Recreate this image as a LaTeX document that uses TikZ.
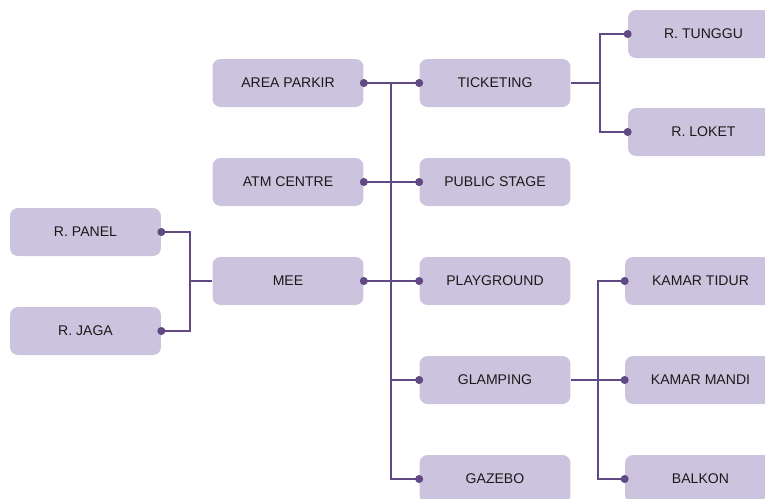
\documentclass[tikz,border=0pt]{standalone}
\usepackage{fontspec}
\setmainfont{Liberation Sans}
\usepackage{tikz}
\usetikzlibrary{calc}
\definecolor{boxfill}{RGB}{204,196,222}
\definecolor{linec}{RGB}{97,74,131}
\definecolor{txtc}{RGB}{26,26,26}
\def\dotat(#1){\fill[linec] (#1) circle (2.3pt);}
\tikzset{
	room/.style={fill=boxfill, rounded corners=0.16cm, minimum width=3.02cm, minimum height=0.96cm, inner sep=0pt, text=txtc, font=\fontsize{8pt}{9.6pt}\selectfont},
	link/.style={draw=linec, line width=1.15pt}
}
\begin{document}
\begin{tikzpicture}[x=0.02cm, y=-0.02cm]
			%%%%% START %%%%%
			
			\useasboundingbox (0, 0) rectangle (765, 498);
			
			\node[room] (rpanel) at (85.5, 232) {R. PANEL};
			\node[room] (rjaga) at (85.5, 331) {R. JAGA};
			
			\node[room] (parkir) at (288, 83) {AREA PARKIR};
			\node[room] (atm) at (288, 182) {ATM CENTRE};
			\node[room] (mee) at (288, 281) {MEE};
			
			\node[room] (ticket) at (495, 83) {TICKETING};
			\node[room] (stage) at (495, 182) {PUBLIC STAGE};
			\node[room] (play) at (495, 281) {PLAYGROUND};
			\node[room] (glamp) at (495, 380) {GLAMPING};
			\node[room] (gazebo) at (495, 479) {GAZEBO};
			
			\node[room] (tunggu) at (703.5, 34) {R. TUNGGU};
			\node[room] (loket) at (703.5, 132) {R. LOKET};
			
			\node[room] (tidur) at (700.5, 281) {KAMAR TIDUR};
			\node[room] (mandi) at (700.5, 380) {KAMAR MANDI};
			\node[room] (balkon) at (700.5, 479) {BALKON};
			
			\coordinate (trunk) at ($(ticket.west)+(-28, 0)$);
			\coordinate (fork) at ($(tidur.west)+(-27, 0)$);
			
			% left side
			\draw[link] (rpanel.east) -- ++(29, 0) |- (rjaga.east);
			\draw[link] (mee.west) -- ++(-22, 0);
			
			% middle trunk
			\draw[link] (parkir.east) -- (ticket.west);
			\draw[link] (atm.east) -- (stage.west);
			\draw[link] (mee.east) -- (play.west);
			\draw[link] (ticket.west) -- (trunk) |- (gazebo.west);
			\draw[link] (trunk |- glamp.west) -- (glamp.west);
			
			% right side
			\draw[link] (ticket.east) -- ++(30, 0);
			\draw[link] (tunggu.west) -- ++(-28, 0) |- (loket.west);
			\draw[link] (glamp.east) -- ++(28, 0);
			\draw[link] (tidur.west) -- (fork) |- (balkon.west);
			\draw[link] (fork |- mandi.west) -- (mandi.west);
			
			\dotat(rpanel.east) \dotat(rjaga.east)
			\dotat(parkir.east) \dotat(atm.east) \dotat(mee.east)
			\dotat(ticket.west) \dotat(stage.west) \dotat(play.west) \dotat(glamp.west) \dotat(gazebo.west)
			\dotat(tunggu.west) \dotat(loket.west)
			\dotat(tidur.west) \dotat(mandi.west) \dotat(balkon.west)
			
			%%%%% END %%%%%
\end{tikzpicture}
\end{document}
